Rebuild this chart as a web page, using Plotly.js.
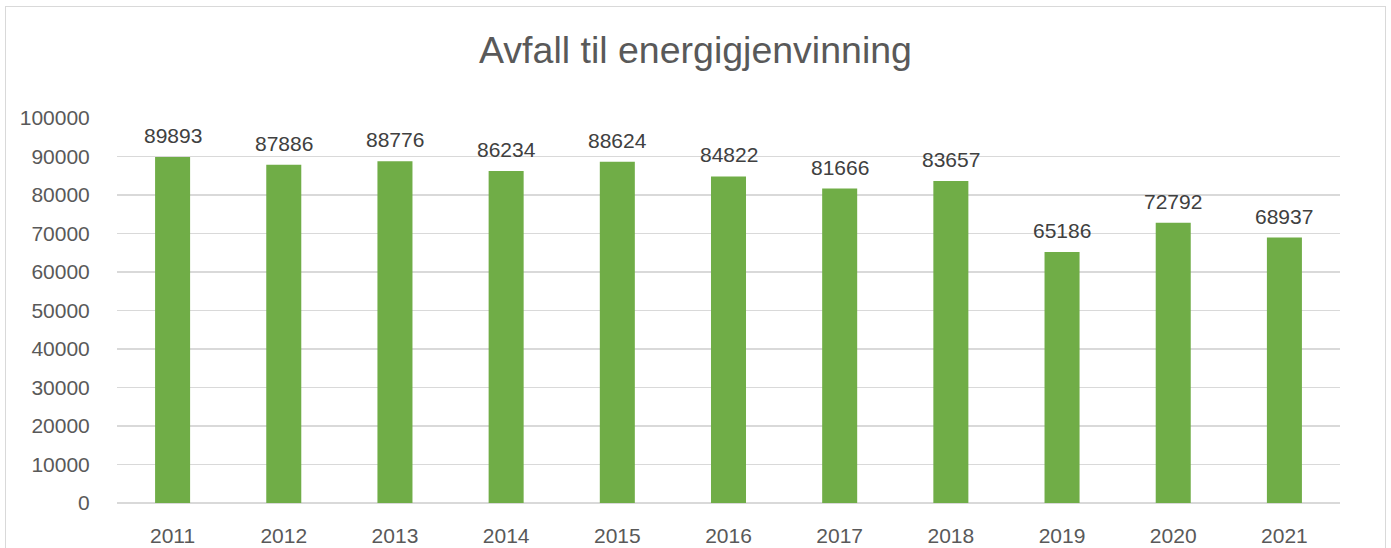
<!DOCTYPE html>
<html>
<head>
<meta charset="utf-8">
<script src="https://cdn.plot.ly/plotly-3.0.1.min.js"></script>
<style>
  html, body { margin: 0; padding: 0; background: #fff; overflow: hidden; }
  #chart { width: 1391px; height: 548px; position: absolute; left: 0; top: 0; }
  #frame { position: absolute; left: 5px; top: 6px; width: 1381px; height: 560px;
           border: 1.5px solid #d9d9d9; pointer-events: none; box-sizing: border-box; }
</style>
</head>
<body>
<div id="chart"></div>
<div id="frame"></div>
<script>
const years = ['2011','2012','2013','2014','2015','2016','2017','2018','2019','2020','2021'];
const values = [89893, 87886, 88776, 86234, 88624, 84822, 81666, 83657, 65186, 72792, 68937];
const yTicks = [0,10000,20000,30000,40000,50000,60000,70000,80000,90000,100000];
const chartTitle = 'Avfall til energigjenvinning';

const fontFam = '"Liberation Sans", Arial, sans-serif';

const labels = values.map((v, i) => ({
  x: i, y: v, xref: 'x', yref: 'y',
  text: String(v), showarrow: false,
  yanchor: 'bottom', yshift: 8,
  font: { family: fontFam, size: 21, color: '#404040' }
}));

Plotly.newPlot('chart', [{
  type: 'bar',
  x: years,
  y: values,
  marker: { color: '#70AD47' },
  width: 0.315,
  hoverinfo: 'none'
}], {
  width: 1391,
  height: 548,
  margin: { l: 117, r: 51, t: 118, b: 45 },
  paper_bgcolor: '#ffffff',
  plot_bgcolor: '#ffffff',
  showlegend: false,
  title: {
    text: chartTitle,
    font: { family: fontFam, size: 37.5, color: '#595959' },
    x: 0.5, xanchor: 'center', xref: 'container',
    y: 1 - 50/548, yanchor: 'middle', yref: 'container'
  },
  annotations: labels,
  xaxis: {
    type: 'category',
    range: [-0.5, years.length - 0.5],
    tickfont: { family: fontFam, size: 21, color: '#595959' },
    ticks: 'outside', ticklen: 14, tickcolor: 'rgba(0,0,0,0)',
    showgrid: false, showline: false, zeroline: false,
    fixedrange: true
  },
  yaxis: {
    range: [0, 100000],
    tickvals: yTicks,
    ticktext: yTicks.map(String),
    tickfont: { family: fontFam, size: 21, color: '#595959' },
    ticks: 'outside', ticklen: 22, tickcolor: 'rgba(0,0,0,0)',
    showgrid: true, gridcolor: '#d9d9d9', gridwidth: 1.5,
    zeroline: true, zerolinecolor: '#d9d9d9', zerolinewidth: 1.5,
    showline: false,
    fixedrange: true
  },
  bargap: 0.685
}, { displayModeBar: false, staticPlot: true });
</script>
</body>
</html>
